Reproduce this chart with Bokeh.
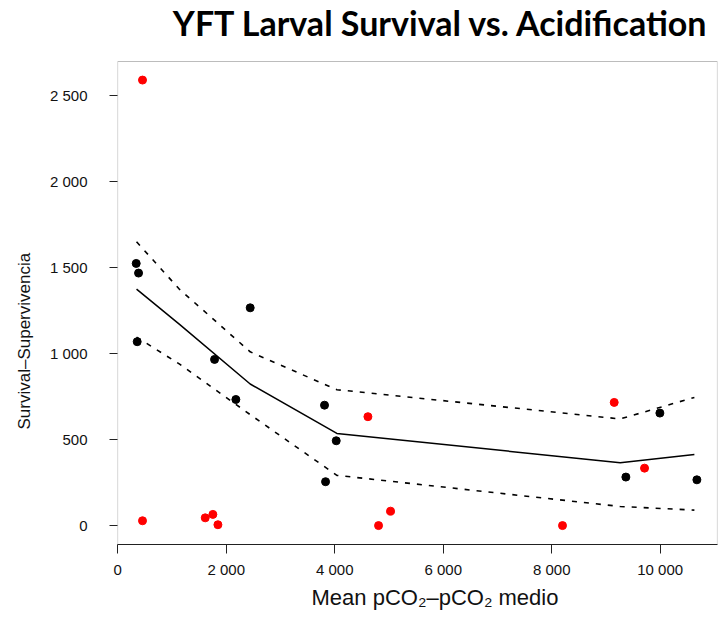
from bokeh.plotting import figure
from bokeh.models import Range1d, FixedTicker, Title, Label, BoxAnnotation
from bokeh.embed import file_html
from bokeh.resources import INLINE

# ---- data ----
black_x = [341, 384, 359, 1785, 2178, 2442, 3812, 3831, 4028, 9367, 9994, 10676]
black_y = [1524, 1468, 1069, 966, 733, 1266, 700, 255, 493, 282, 654, 266]
red_x = [457, 457, 1613, 1754, 1847, 4612, 4808, 5029, 8199, 9152, 9711]
red_y = [2590, 28, 45, 65, 5, 633, 0, 84, 0, 716, 334]

fit_x = [347, 1134, 2442, 4040, 9263, 10630]
fit_y = [1375, 1171, 823, 536, 365, 413]
upper_y = [1650, 1375, 1010, 790, 620, 745]
lower_y = [1096, 940, 645, 292, 111, 90]

x_ticks = [0, 2000, 4000, 6000, 8000, 10000]
x_tick_labels = ["0", "2 000", "4 000", "6 000", "8 000", "10 000"]
y_ticks = [0, 500, 1000, 1500, 2000, 2500]
y_tick_labels = ["0", "500", "1 000", "1 500", "2 000", "2 500"]

title_text = "YFT Larval Survival vs. Acidification"
x_title = "Mean pCO\u2082\u2013pCO\u2082 medio"
y_title = "Survival\u2013Supervivencia"

FONT = "Liberation Sans"

# plotting box (in data units) and the page layout
X0, X1 = -4, 11056
Y0, Y1 = -110, 2698
W, H = 718, 620
BOX_TOP_PX, BOX_BOTTOM_PX = 61, 544
# the frame reaches the top of the page so the title can sit inside it
y_top = Y0 + (Y1 - Y0) * BOX_BOTTOM_PX / (BOX_BOTTOM_PX - BOX_TOP_PX)

p = figure(width=W, height=H, output_backend="svg", toolbar_location=None,
           x_range=Range1d(X0, X1), y_range=Range1d(Y0, y_top),
           min_border_left=117, min_border_right=1, min_border_top=0,
           min_border_bottom=H - BOX_BOTTOM_PX)

p.background_fill_color = "white"
p.border_fill_color = "white"
p.outline_line_color = None
p.grid.visible = False

for ax, ticks, labels in ((p.xaxis[0], x_ticks, x_tick_labels), (p.yaxis[0], y_ticks, y_tick_labels)):
    ax.ticker = FixedTicker(ticks=ticks)
    ax.major_label_overrides = {t: l for t, l in zip(ticks, labels)}
    ax.minor_tick_line_color = None
    ax.major_tick_line_color = "#222222"
    ax.major_tick_in = 0
    ax.major_label_text_font = FONT
    ax.major_label_text_font_size = "15px"
    ax.major_label_text_color = "#111111"

p.xaxis.axis_line_color = "#222222"
p.yaxis.axis_line_color = None
p.xaxis.major_tick_out = 9
p.xaxis.major_label_standoff = 7
p.yaxis.major_tick_out = 8
p.yaxis.major_label_standoff = 22
p.yaxis.major_label_orientation = "horizontal"

# plot box
p.add_layout(BoxAnnotation(left=X0, right=X1, bottom=Y0, top=Y1, fill_alpha=0,
                           fill_color=None, line_color="#222222", line_width=1.2))

# fitted curve and bands
p.line(fit_x, upper_y, line_color="black", line_width=1.6, line_dash="5 7")
p.line(fit_x, lower_y, line_color="black", line_width=1.6, line_dash="5 7")
p.line(fit_x, fit_y, line_color="black", line_width=1.5)

# points
p.scatter(black_x, black_y, size=8, fill_color="black", line_color="black")
p.scatter(red_x, red_y, size=8, fill_color="#FF0000", line_color="#FF0000")

# titles
p.add_layout(Label(x=592, y=BOX_BOTTOM_PX - 22, x_units="screen", y_units="screen",
                   text=title_text, text_align="right", text_baseline="alphabetic",
                   text_font="Lato", text_font_style="bold", text_font_size="34px",
                   text_color="black"))
p.add_layout(Title(text=x_title, align="left", offset=194, standoff=4,
                   text_font=FONT, text_font_size="22px", text_font_style="normal",
                   text_color="#111111"), "below")
p.add_layout(Title(text=y_title, align="left", offset=115, standoff=25,
                   text_font=FONT, text_font_size="17px", text_font_style="normal",
                   text_color="#111111"), "left")

open("out.html", "w").write(file_html(p, INLINE))
